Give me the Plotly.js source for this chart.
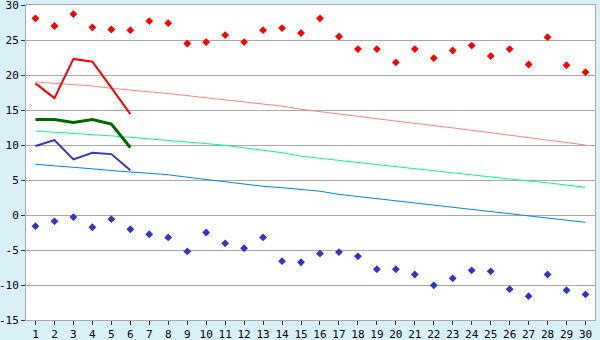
<!DOCTYPE html>
<html>
<head>
<meta charset="utf-8">
<script src="https://cdn.plot.ly/plotly-3.0.1.min.js"></script>
<style>html,body{margin:0;padding:0;background:#daf0f7;}#chart{width:600px;height:340px;}</style>
</head>
<body>
<div id="chart"></div>
<script>
var days = [1,2,3,4,5,6,7,8,9,10,11,12,13,14,15,16,17,18,19,20,21,22,23,24,25,26,27,28,29,30];
var daysShort = [1,2,3,4,5,6];

var maxRecord = [28.1,27.0,28.7,26.8,26.5,26.4,27.7,27.4,24.5,24.7,25.7,24.7,26.4,26.7,26.0,28.1,25.5,23.7,23.7,21.8,23.7,22.4,23.5,24.2,22.7,23.7,21.5,25.4,21.4,20.4];
var minRecord = [-1.6,-0.9,-0.3,-1.75,-0.6,-2.05,-2.75,-3.2,-5.2,-2.5,-4.05,-4.75,-3.2,-6.6,-6.75,-5.5,-5.3,-5.9,-7.75,-7.75,-8.5,-10.05,-9.05,-7.9,-8.05,-10.6,-11.6,-8.5,-10.75,-11.35];

var maxNormal = [19.0,18.8,18.6,18.43,18.1,17.8,17.6,17.35,17.05,16.75,16.45,16.15,15.85,15.55,15.1,14.8,14.5,14.1,13.75,13.45,13.15,12.8,12.45,12.1,11.75,11.4,11.05,10.7,10.35,10.0];
var meanNormal = [12.0,11.85,11.7,11.5,11.3,11.1,10.9,10.7,10.45,10.2,9.95,9.6,9.25,8.9,8.4,8.05,7.8,7.5,7.2,6.9,6.6,6.3,5.95,5.7,5.4,5.1,4.85,4.6,4.3,3.95];
var minNormal = [7.24,7.05,6.85,6.6,6.35,6.15,5.95,5.75,5.4,5.05,4.75,4.45,4.1,3.9,3.7,3.4,2.95,2.65,2.35,2.0,1.65,1.4,1.1,0.85,0.55,0.25,-0.05,-0.35,-0.7,-1.05];

var maxActual = [18.8,16.7,22.3,21.9,18.2,14.4];
var meanActual = [13.65,13.65,13.2,13.65,13.0,9.65];
var minActual = [9.85,10.7,7.95,8.9,8.7,6.4];

var xTickLabels = days.map(String);
var yTickVals = [-15,-10,-5,0,5,10,15,20,25,30];
var yTickLabels = ['-15','-10','-5','0','5','10','15','20','25','30'];

var traces = [
  {x: days, y: maxNormal, type: 'scatter', mode: 'lines', line: {color: '#ff8080', width: 1}, hoverinfo: 'none'},
  {x: days, y: meanNormal, type: 'scatter', mode: 'lines', line: {color: '#00ff80', width: 1}, hoverinfo: 'none'},
  {x: days, y: minNormal, type: 'scatter', mode: 'lines', line: {color: '#0080ff', width: 1}, hoverinfo: 'none'},
  {x: daysShort, y: maxActual, type: 'scatter', mode: 'lines', line: {color: '#ff0000', width: 2}, hoverinfo: 'none'},
  {x: daysShort, y: meanActual, type: 'scatter', mode: 'lines', line: {color: '#006600', width: 3}, hoverinfo: 'none'},
  {x: daysShort, y: minActual, type: 'scatter', mode: 'lines', line: {color: '#3333cc', width: 2}, hoverinfo: 'none'},
  {x: days, y: maxRecord, type: 'scatter', mode: 'markers', marker: {symbol: 'diamond', size: 6, color: '#ff0000'}, hoverinfo: 'none'},
  {x: days, y: minRecord, type: 'scatter', mode: 'markers', marker: {symbol: 'diamond', size: 6, color: '#3333cc'}, hoverinfo: 'none'}
];

var layout = {
  width: 600, height: 340,
  margin: {l: 26, r: 5, t: 5, b: 20, pad: 0},
  paper_bgcolor: '#daf0f7',
  plot_bgcolor: '#ffffff',
  showlegend: false,
  font: {family: 'DejaVu Sans Mono, monospace', size: 11, color: '#000000'},
  xaxis: {
    range: [0.5, 30.5],
    tickmode: 'array', tickvals: days, ticktext: xTickLabels,
    ticks: 'outside', ticklen: 4, tickcolor: '#333333', tickwidth: 1,
    showgrid: false, zeroline: false,
    showline: true, linecolor: '#aaaaaa', linewidth: 1, mirror: true,
    tickfont: {size: 11}, automargin: false, ticklabeloverflow: 'allow'
  },
  yaxis: {
    range: [-15, 30],
    tickmode: 'array', tickvals: yTickVals, ticktext: yTickLabels,
    ticks: 'outside', ticklen: 4, tickcolor: '#333333', tickwidth: 1,
    showgrid: true, gridcolor: '#aaaaaa', gridwidth: 1,
    zeroline: false,
    showline: true, linecolor: '#aaaaaa', linewidth: 1, mirror: true,
    tickfont: {size: 11}, automargin: false, ticklabeloverflow: 'allow'
  }
};

Plotly.newPlot('chart', traces, layout, {staticPlot: true, displayModeBar: false});
</script>
</body>
</html>
